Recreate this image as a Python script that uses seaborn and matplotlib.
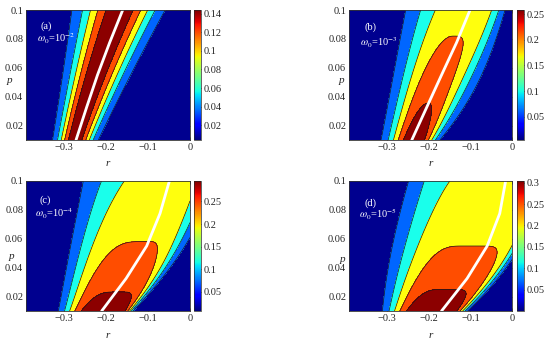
import numpy as np
import matplotlib
matplotlib.use("Agg")
import matplotlib.pyplot as plt
import seaborn as sns
from matplotlib import cm, colors, ticker

# ---------------- data ----------------
p_nodes = [0.01, 0.055, 0.1]          # rows at which the field parameters were read

panel_tags = ["(a)", "(b)", "(c)", "(d)"]
omega_exp = ["-2", "-3", "-4", "-5"]

# contour levels of each panel
levels_a = [0.025, 0.05, 0.075, 0.10, 0.125]
levels_b = [0.043, 0.086, 0.129, 0.172, 0.215]
levels_c = [0.05, 0.10, 0.15, 0.20, 0.25]
levels_d = [0.05, 0.10, 0.15, 0.20, 0.25]

# peak value along the ridge at p_nodes
amp_a = [0.145, 0.145, 0.145]
amp_b = [0.258, 0.194, 0.160]
amp_c = [0.295, 0.203, 0.170]
amp_d = [0.304, 0.200, 0.160]

# ridge position r at p_nodes
ridge_a = [-0.2735, -0.225, -0.1665]
ridge_b = [-0.235, -0.175, -0.117]
ridge_c = [-0.2065, -0.105, -0.050]
ridge_d = [-0.193, -0.115, -0.030]

# width of the fall-off on the left / right of the ridge
wleft_a = [0.0403, 0.0588, 0.0863]
wright_a = [0.0419, 0.0633, 0.0811]
wleft_b = [0.0587, 0.0925, 0.1234]
wright_b = [0.0493, 0.0864, 0.0939]
wleft_c = [0.0898, 0.166, 0.1923]
wright_c = [0.0663, 0.0848, 0.100]
wleft_d = [0.0982, 0.1566, 0.211]
wright_d = [0.0787, 0.130, 0.100]

# sharpness of the fall-off (left / right)
qleft_a = [2.0, 2.0, 2.0]
qright_a = [2.0, 2.0, 2.0]
qleft_b = [2.0, 2.5, 2.5]
qright_b = [2.5, 2.5, 4.7]
qleft_c = [3.3, 4.5, 3.5]
qright_c = [7.5, 3.65, 5.0]
qleft_d = [3.3, 3.6, 4.8]
qright_d = [6.2, 9.3, 9.0]

# colorbar ranges and ticks
cbar_range_a = [0.004, 0.144]
cbar_range_b = [0.005, 0.258]
cbar_range_c = [0.008, 0.295]
cbar_range_d = [0.0, 0.304]
cbar_ticks_a = [0.02, 0.04, 0.06, 0.08, 0.10, 0.12, 0.14]
cbar_ticks_b = [0.05, 0.10, 0.15, 0.20, 0.25]
cbar_ticks_c = [0.05, 0.10, 0.15, 0.20, 0.25]
cbar_ticks_d = [0.05, 0.10, 0.15, 0.20, 0.25, 0.30]

# white curve (r at white_p)
white_p = [0.01, 0.0325, 0.055, 0.0775, 0.1]
white_r_a = [-0.271, -0.246, -0.220, -0.191, -0.160]
white_r_b = [-0.240, -0.2046, -0.169, -0.133, -0.101]
white_r_c = [-0.210, -0.152, -0.103, -0.0713, -0.049]
white_r_d = [-0.169, -0.108, -0.060, -0.030, -0.016]

x_ticks = [-0.3, -0.2, -0.1, 0.0]
y_ticks = [0.02, 0.04, 0.06, 0.08, 0.10]
r_range = [-0.39, 0.0]
p_range = [0.01, 0.1]

panels = [
    (levels_a, amp_a, ridge_a, wleft_a, wright_a, qleft_a, qright_a, cbar_range_a, cbar_ticks_a, white_r_a),
    (levels_b, amp_b, ridge_b, wleft_b, wright_b, qleft_b, qright_b, cbar_range_b, cbar_ticks_b, white_r_b),
    (levels_c, amp_c, ridge_c, wleft_c, wright_c, qleft_c, qright_c, cbar_range_c, cbar_ticks_c, white_r_c),
    (levels_d, amp_d, ridge_d, wleft_d, wright_d, qleft_d, qright_d, cbar_range_d, cbar_ticks_d, white_r_d),
]

# ---------------- style ----------------
sns.set_theme(style="white")
plt.rcParams["font.family"] = ["Liberation Serif", "DejaVu Serif"]
plt.rcParams["mathtext.fontset"] = "stix"
plt.rcParams["axes.linewidth"] = 0.6

jet = plt.get_cmap("jet")
band_colors = [(0.0, 0.0, 0.56), (0.0, 0.4, 1.0), (0.1, 1.0, 0.92),
               (1.0, 1.0, 0.05), (1.0, 0.3, 0.0), (0.55, 0.0, 0.0)]

fig = plt.figure(figsize=(5.5, 3.42), dpi=100)

ax_pos = [
    [26 / 550, 1 - 140 / 342, 164 / 550, 130 / 342],
    [349 / 550, 1 - 140 / 342, 163.3 / 550, 130 / 342],
    [26 / 550, 1 - 311 / 342, 164 / 550, 130 / 342],
    [349 / 550, 1 - 311 / 342, 163.3 / 550, 130 / 342],
]
cb_x = [194 / 550, 516.7 / 550, 194 / 550, 516.7 / 550]
tag_xy = [(0.125, 0.875), (0.13, 0.87), (0.12, 0.855), (0.13, 0.83)]
om_xy = [(0.185, 0.78), (0.18, 0.75), (0.17, 0.75), (0.18, 0.74)]
plab_xy = [(-0.098, 0.46), (-0.045, 0.46), (-0.09, 0.42), (-0.04, 0.40)]


def through_nodes(vals, x, log=False):
    px = np.log(p_nodes) if log else np.asarray(p_nodes)
    coef = np.polyfit(px, vals, 2)
    return np.polyval(coef, np.log(x) if log else x)


fmt = ticker.FuncFormatter(lambda v, pos: ("%g" % round(v, 4)).replace("-", "\u2212"))

r = np.linspace(r_range[0], r_range[1], 500)
p = np.linspace(p_range[0], p_range[1], 400)
R, P = np.meshgrid(r, p)

for i, (lev, amp, ridge, wl, wr, ql, qr, cr, ct, wrr) in enumerate(panels):
    ax = fig.add_axes(ax_pos[i])
    A = through_nodes(amp, P, log=True)
    c = through_nodes(ridge, P)
    sl = through_nodes(wl, P)
    sr = through_nodes(wr, P)
    qlv = through_nodes(ql, P)
    qrv = through_nodes(qr, P)
    d = R - c
    s = np.where(d < 0, sl, sr)
    q = np.where(d < 0, qlv, qrv)
    Z = A * np.exp(-(np.abs(d) / s) ** q)

    ax.contourf(R, P, Z, levels=[-1.0] + list(lev) + [10.0], colors=band_colors)
    ax.contour(R, P, Z, levels=lev, colors="k", linewidths=0.5)
    sns.lineplot(x=wrr, y=white_p, sort=False, color="white", linewidth=2.0, ax=ax)

    ax.set_xlim(r_range)
    ax.set_ylim(p_range)
    ax.set_xticks(x_ticks)
    ax.set_yticks(y_ticks)
    ax.xaxis.set_major_formatter(fmt)
    ax.yaxis.set_major_formatter(fmt)
    ax.tick_params(direction="in", length=2, width=0.5, labelsize=7.5, pad=2,
                   top=True, right=True, bottom=True, left=True)
    for sp in ax.spines.values():
        sp.set_color("#333333")
    ax.set_xlabel("r", fontsize=8, style="italic")
    ax.xaxis.set_label_coords(0.5, -0.15)
    ax.set_ylabel("p", fontsize=8, style="italic", rotation=0, va="center", ha="center")
    ax.yaxis.set_label_coords(*plab_xy[i])

    ax.text(tag_xy[i][0], tag_xy[i][1], panel_tags[i], transform=ax.transAxes,
            color="white", fontsize=7.5, ha="center", va="center")
    ax.text(om_xy[i][0], om_xy[i][1], r"$\omega_0$=10$^{%s}$" % omega_exp[i].replace("-", "\u2212"),
            transform=ax.transAxes, color="white", fontsize=7.5, ha="center", va="center")

    cax = fig.add_axes([cb_x[i], ax_pos[i][1], 7 / 550, ax_pos[i][3]])
    sm = cm.ScalarMappable(norm=colors.Normalize(vmin=cr[0], vmax=cr[1]), cmap=jet)
    cb = fig.colorbar(sm, cax=cax, ticks=ct)
    cb.ax.yaxis.set_major_formatter(fmt)
    cb.ax.tick_params(direction="in", length=2, width=0.5, labelsize=7.5, pad=2)
    cb.outline.set_linewidth(0.5)

fig.savefig("out.png", dpi=100)
